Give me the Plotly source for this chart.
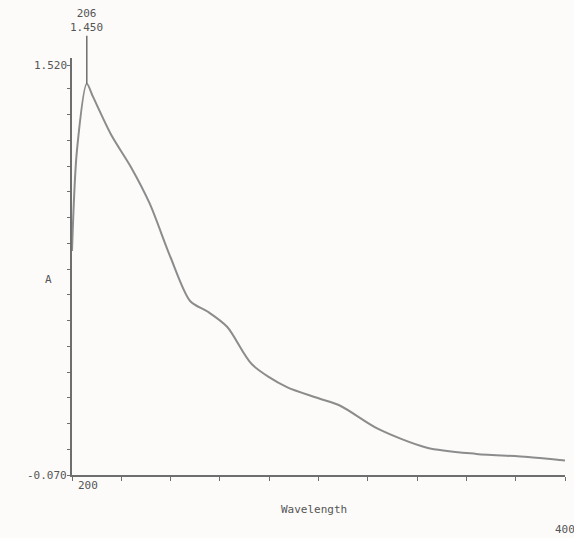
import plotly.graph_objects as go

# Absorbance spectrum
wavelength = [200, 202, 206, 208.5, 216, 224, 231.5, 240, 248, 255, 263, 273, 287, 300, 309, 324, 344, 364, 385, 398, 400]
absorbance = [0.80, 1.19, 1.450, 1.40, 1.25, 1.125, 0.985, 0.775, 0.605, 0.565, 0.505, 0.36, 0.272, 0.228, 0.198, 0.110, 0.036, 0.012, 0.000, -0.012, -0.014]

peak_wl = 206
peak_abs = 1.450
y_min, y_max = -0.070, 1.520
x_min, x_max = 200, 400

y_minor = [round(-0.07 + 0.1 * i, 3) for i in range(16)] + [1.52]
x_minor = list(range(200, 401, 20))

ink = "#6e6e6e"
font = dict(family="DejaVu Sans Mono", size=11, color="#555555")

fig = go.Figure()
fig.add_trace(go.Scatter(x=wavelength, y=absorbance, mode="lines",
                         line=dict(color="#8c8c8c", width=2, shape="spline", smoothing=0.8),
                         showlegend=False, hoverinfo="skip"))

fig.update_layout(
    width=574, height=538,
    margin=dict(l=72, r=9, t=58, b=63),
    paper_bgcolor="#fcfbfa", plot_bgcolor="#fcfbfa",
    font=font,
    xaxis=dict(range=[x_min, x_max], showgrid=False, zeroline=False, showline=True,
               linecolor=ink, linewidth=1.5, tickvals=x_minor, ticktext=[""] * len(x_minor),
               ticks="outside", ticklen=4, tickcolor=ink),
    yaxis=dict(range=[y_min, 1.55], showgrid=False, zeroline=False, showline=True,
               linecolor=ink, linewidth=1.5, tickvals=y_minor, ticktext=[""] * len(y_minor),
               ticks="outside", ticklen=3, tickcolor=ink),
)

ann = []
ann.append(dict(x=0, xref="paper", y=y_max, yref="y", text=f"{y_max:.3f}", showarrow=False,
                xanchor="right", xshift=-3, font=font))
ann.append(dict(x=0, xref="paper", y=y_min, yref="y", text=f"{y_min:.3f}", showarrow=False,
                xanchor="right", xshift=-3, font=font))
ann.append(dict(x=x_min, xref="x", y=y_min, yref="y", text=str(x_min), showarrow=False,
                xanchor="left", yanchor="top", xshift=4, yshift=-2, font=font))
ann.append(dict(x=x_max, xref="x", y=0, yref="paper", text=str(x_max), showarrow=False,
                xanchor="center", yanchor="top", yshift=-46, font=font))
ann.append(dict(x=298, xref="x", y=0, yref="paper", text="Wavelength", showarrow=False,
                xanchor="center", yanchor="top", yshift=-26, font=font))
ann.append(dict(x=0, xref="paper", y=0.69, yref="y", text="A", showarrow=False,
                xanchor="center", xshift=-24, font=font))
ann.append(dict(x=peak_wl, xref="x", y=peak_abs, yref="y",
                text=f"{peak_wl}<br>{peak_abs:.3f}", showarrow=True, arrowhead=0,
                arrowwidth=1.5, arrowcolor=ink, ax=0, ay=-48, standoff=0,
                xanchor="center", yanchor="bottom", font=font))
fig.update_layout(annotations=ann)

fig.write_html("out.html")
